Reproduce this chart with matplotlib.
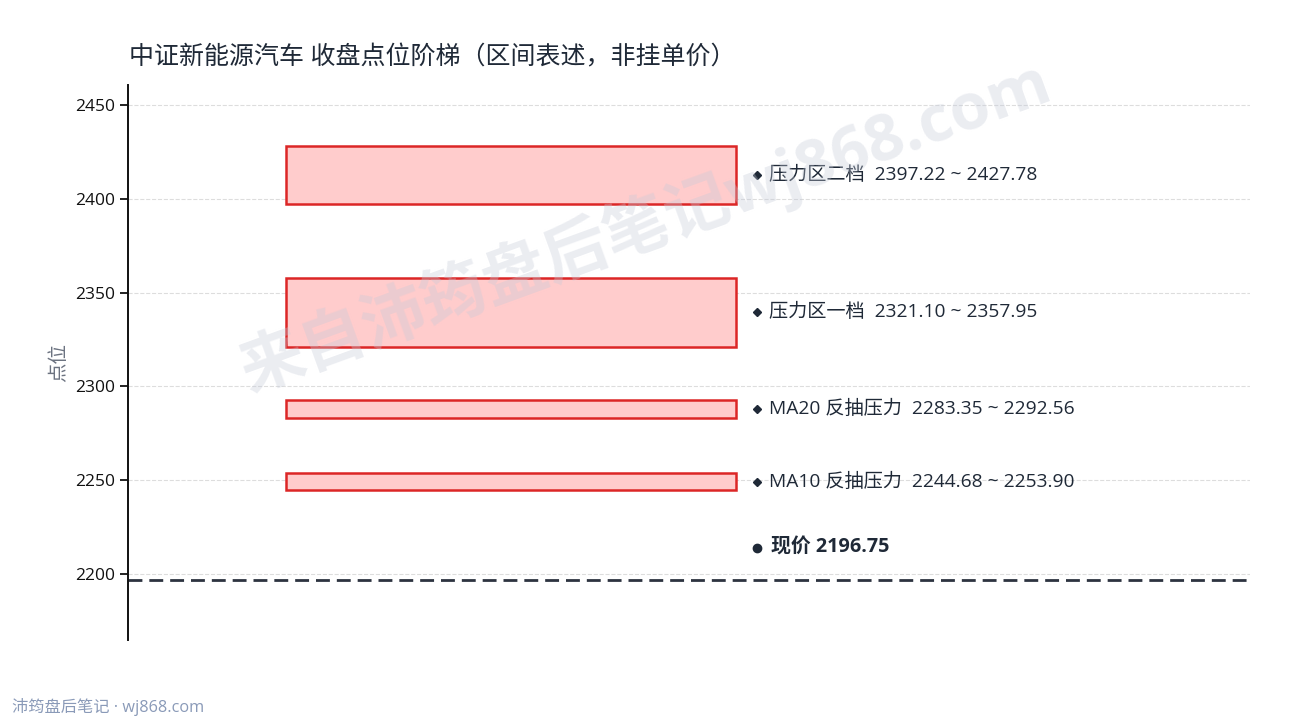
import matplotlib
matplotlib.use("Agg")
import matplotlib.pyplot as plt

plt.rcParams["font.family"] = ["Open Sans", "Noto Sans CJK SC", "DejaVu Sans"]

# ── data ────
zone_names = ["压力区二档", "压力区一档", "MA20 反抽压力", "MA10 反抽压力"]
zone_low   = [2397.22, 2321.10, 2283.35, 2244.68]
zone_high  = [2427.78, 2357.95, 2292.56, 2253.90]
price_now  = 2196.75
y_ticks    = [2200, 2250, 2300, 2350, 2400, 2450]

# ── colours ────
FILL  = "#ffcccc"
EDGE  = "#dc2626"
DARK  = "#1f2937"
GRID  = "#dddddd"
MUTED = "#6b7280"

fig = plt.figure(figsize=(12.9, 7.2), dpi=100)
ax = fig.add_axes([0.0992, 0.111, 0.8698, 0.771])

bar_left, bar_w = 0.141, 0.401
for name, lo, hi in zip(zone_names, zone_low, zone_high):
    ax.bar(bar_left, hi - lo, width=bar_w, bottom=lo, align="edge",
           color=FILL, edgecolor=EDGE, linewidth=1.8, zorder=3)
    mid = (lo + hi) / 2
    ax.plot(0.5605, mid, marker="D", markersize=4, color=DARK, zorder=4)
    ax.text(0.571, mid, f"{name}  {lo:.2f} ~ {hi:.2f}",
            ha="left", va="center", fontsize=13.8, color=DARK, zorder=4)

ax.axhline(price_now, color="#2d3340", linewidth=2,
           linestyle=(0, (5, 2.5)), zorder=2)
ax.plot(0.5605, price_now + 17.5, marker="o", markersize=6, color=DARK, zorder=4)
ax.text(0.573, price_now + 17.5, f"现价 {price_now:.2f}", ha="left", va="center",
        fontsize=14.3, fontweight="bold", color=DARK, zorder=4)

ax.set_xlim(0, 1)
ax.set_ylim(2165, 2460.5)
ax.set_yticks(y_ticks)
ax.set_xticks([])
ax.tick_params(axis="y", labelsize=12.5, length=6, width=1.3, colors="#111111")
ax.grid(axis="y", color=GRID, linewidth=0.8, linestyle="--")
ax.set_axisbelow(True)
for side in ["top", "right", "bottom"]:
    ax.spines[side].set_visible(False)
ax.spines["left"].set_color("#111111")
ax.spines["left"].set_linewidth(1.4)
ax.set_ylabel("点位", fontsize=14, color=MUTED, labelpad=5)

fig.text(0.1, 0.92, "中证新能源汽车 收盘点位阶梯（区间表述，非挂单价）",
         ha="left", va="center", fontsize=18, color=DARK)

# watermark
fig.text(0.5, 0.685, "来自沛筠盘后笔记wj868.com", ha="center", va="center",
         rotation=20, fontsize=46.5, fontweight="bold", color="#c5cbd8",
         alpha=0.35, zorder=10)

fig.text(0.009, 0.018, "沛筠盘后笔记 · wj868.com", ha="left", va="center",
         fontsize=11.7, color="#8a9ab8")

fig.savefig("out.png", dpi=100)
